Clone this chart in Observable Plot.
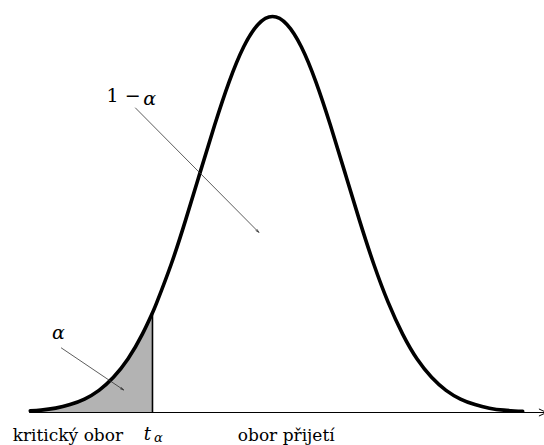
<!DOCTYPE html>
<html>
<head>
<meta charset="utf-8">
<script src="https://cdn.jsdelivr.net/npm/d3@7"></script>
<script src="https://cdn.jsdelivr.net/npm/@observablehq/plot@0.6"></script>
<style>
  html, body { margin: 0; padding: 0; background: #fff; }
  #chart svg { display: block; }
</style>
</head>
<body>
<div id="chart"></div>
<script>
// Curve: x in standard units, y relative to the peak height
const xs = [-3.35, -3.2, -3.0, -2.8, -2.6, -2.4, -2.2, -2.0, -1.8, -1.66, -1.6, -1.4, -1.2, -1.0, -0.8, -0.6, -0.4, -0.2, 0,
            0.2, 0.4, 0.6, 0.8, 1.0, 1.2, 1.4, 1.6, 1.8, 2.0, 2.2, 2.4, 2.6, 2.8, 3.0, 3.2, 3.46];
const ys = [0.004, 0.006, 0.011, 0.020, 0.034, 0.056, 0.089, 0.135, 0.198, 0.252, 0.278, 0.375, 0.487, 0.607, 0.726, 0.835, 0.923, 0.980, 1.0,
            0.980, 0.923, 0.835, 0.726, 0.607, 0.487, 0.375, 0.278, 0.198, 0.135, 0.089, 0.056, 0.034, 0.020, 0.011, 0.006, 0.003];
const tAlpha = -1.66;

// Annotation labels (upright and italic parts)
const uprightNames = ["1 −"];
const uprightX = [-2.06];
const uprightY = [0.80];
const italicNames = ["α", "α"];
const italicX = [-1.70, -2.96];
const italicY = [0.793, 0.200];

const arrowFromX = [-1.895, -2.92];
const arrowFromY = [0.769, 0.163];
const arrowToX = [-0.19, -2.06];
const arrowToY = [0.455, 0.057];

// Bottom axis labels
const bottomNames = ["kritický obor", "obor přijetí"];
const bottomX = [-2.83, 0.19];

const curve = xs.map((x, i) => ({x, y: ys[i]}));
const tail = curve.filter(d => d.x <= tAlpha);
const uprights = uprightNames.map((t, i) => ({t, x: uprightX[i], y: uprightY[i]}));
const italics = italicNames.map((t, i) => ({t, x: italicX[i], y: italicY[i]}));
const arrows = arrowFromX.map((x1, i) => ({x1, y1: arrowFromY[i], x2: arrowToX[i], y2: arrowToY[i]}));
const bottoms = bottomNames.map((t, i) => ({t, x: bottomX[i]}));

const serif = "'DejaVu Serif'";

const plot = Plot.plot({
  width: 544,
  height: 445,
  marginLeft: 0,
  marginRight: 0,
  marginTop: 16,
  marginBottom: 33,
  x: {domain: [-3.762, 3.762], axis: null},
  y: {domain: [0, 1], axis: null},
  style: {background: "white"},
  marks: [
    Plot.areaY(tail, {x: "x", y: "y", fill: "#b3b3b3", curve: "natural"}),
    Plot.arrow([{x1: -3.36, x2: 3.79, y: 0}], {x1: "x1", x2: "x2", y1: "y", y2: "y", stroke: "black", strokeWidth: 1, headLength: 12, headAngle: 50}),
    Plot.ruleX([tAlpha], {y1: 0, y2: 0.252, stroke: "black", strokeWidth: 1.6}),
    Plot.line(curve, {x: "x", y: "y", stroke: "black", strokeWidth: 3.6, curve: "natural"}),
    Plot.arrow(arrows, {x1: "x1", y1: "y1", x2: "x2", y2: "y2", stroke: "#333", strokeWidth: 0.8, headLength: 6, headAngle: 30}),
    Plot.text(uprights, {x: "x", y: "y", text: "t", fontSize: 19, fill: "black", fontFamily: serif}),
    Plot.text(italics, {x: "x", y: "y", text: "t", fontSize: 19, fontStyle: "italic", fill: "black", fontFamily: serif}),
    Plot.text(bottoms, {x: "x", y: 0, text: "t", dy: 23, fontSize: 17, fill: "black", fontFamily: serif}),
    Plot.text([tAlpha], {x: d => d, y: 0, text: () => "t", dy: 22, dx: -5, fontSize: 18, fontStyle: "italic", fill: "black", fontFamily: serif}),
    Plot.text([tAlpha], {x: d => d, y: 0, text: () => "α", dy: 25.5, dx: 6, fontSize: 13, fontStyle: "italic", fill: "black", fontFamily: serif})
  ]
});
document.getElementById("chart").appendChild(plot);
</script>
</body>
</html>
